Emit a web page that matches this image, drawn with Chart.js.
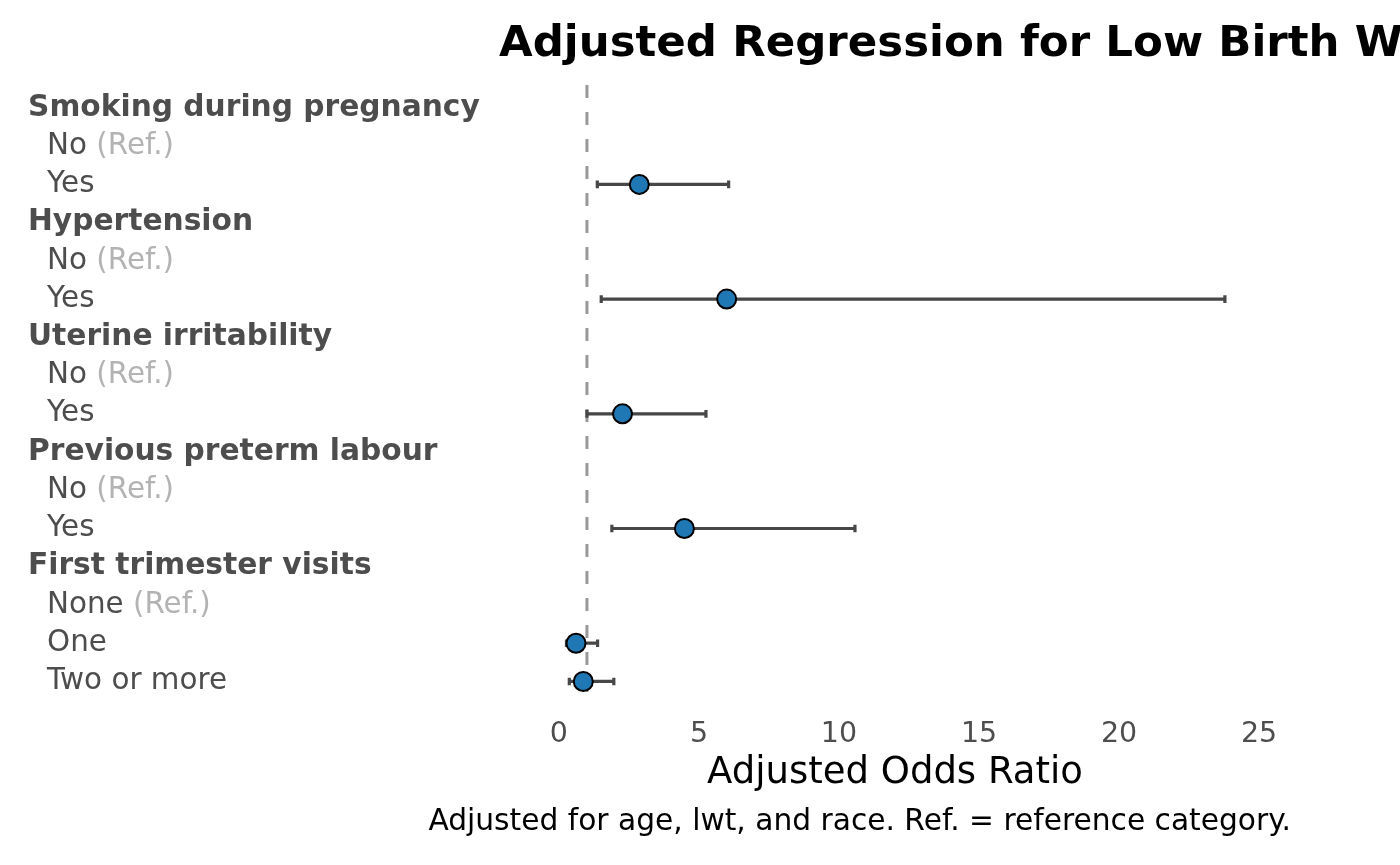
<!DOCTYPE html>
<html>
<head>
<meta charset="utf-8">
<script src="https://cdn.jsdelivr.net/npm/chart.js@4.4.1/dist/chart.umd.min.js"></script>
<style>
  html, body { margin: 0; padding: 0; background: #ffffff; }
  #wrap { width: 1400px; height: 865px; }
</style>
</head>
<body>
<div id="wrap"><canvas id="c" width="1400" height="865"></canvas></div>
<script>
// ---- data ----
const rowLabels = [
  'Smoking during pregnancy', 'No', 'Yes',
  'Hypertension', 'No', 'Yes',
  'Uterine irritability', 'No', 'Yes',
  'Previous preterm labour', 'No', 'Yes',
  'First trimester visits', 'None', 'One', 'Two or more'
];
const rowKind = [
  'header', 'ref', 'level',
  'header', 'ref', 'level',
  'header', 'ref', 'level',
  'header', 'ref', 'level',
  'header', 'ref', 'level', 'level'
];
const oddsRatio = [null, null, 2.87, null, null, 5.99, null, null, 2.27, null, null, 4.48, null, null, 0.61, 0.87];
const ciLower   = [null, null, 1.37, null, null, 1.51, null, null, 1.00, null, null, 1.89, null, null, 0.27, 0.37];
const ciUpper   = [null, null, 6.06, null, null, 23.78, null, null, 5.25, null, null, 10.57, null, null, 1.38, 1.96];
const xTickValues = [0, 5, 10, 15, 20, 25];
const referenceValue = 1;
const titleText = 'Adjusted Regression for Low Birth Weight';
const xAxisTitle = 'Adjusted Odds Ratio';
const captionText = 'Adjusted for age, lwt, and race. Ref. = reference category.';
const refSuffix = '(Ref.)';

const FONT = '"DejaVu Sans", "Noto Sans", sans-serif';

const pointData = [];
oddsRatio.forEach((v, i) => { if (v !== null) pointData.push({ x: v, y: i }); });

const yMin = -0.6, yMax = rowLabels.length - 1 + 0.6;

const errorBarPlugin = {
  id: 'errorBars',
  afterDatasetDraw(chart, args) {
    if (args.index !== 1) return;
    const ctx = chart.ctx;
    const xs = chart.scales.x, ys = chart.scales.y;
    ctx.save();
    ctx.strokeStyle = '#474747';
    ctx.lineWidth = 3.2;
    ctx.lineCap = 'butt';
    for (let i = 0; i < rowLabels.length; i++) {
      if (ciLower[i] === null) continue;
      const y = ys.getPixelForValue(i);
      const x1 = xs.getPixelForValue(ciLower[i]);
      const x2 = xs.getPixelForValue(ciUpper[i]);
      const half = ys.getPixelForValue(i + 0.1) - y;
      ctx.beginPath();
      ctx.moveTo(x1, y); ctx.lineTo(x2, y);
      ctx.moveTo(x1, y - half); ctx.lineTo(x1, y + half);
      ctx.moveTo(x2, y - half); ctx.lineTo(x2, y + half);
      ctx.stroke();
    }
    ctx.restore();
  }
};

const textPlugin = {
  id: 'texts',
  afterDraw(chart) {
    const ctx = chart.ctx;
    const ys = chart.scales.y;
    const area = chart.chartArea;
    ctx.save();
    // row labels
    ctx.textBaseline = 'middle';
    ctx.textAlign = 'left';
    for (let i = 0; i < rowLabels.length; i++) {
      const y = ys.getPixelForValue(i);
      if (rowKind[i] === 'header') {
        ctx.font = 'bold 29.7px ' + FONT;
        ctx.fillStyle = '#4d4d4d';
        ctx.fillText(rowLabels[i], 28, y);
      } else {
        ctx.font = '29.4px ' + FONT;
        ctx.fillStyle = '#4d4d4d';
        ctx.fillText(rowLabels[i], 47, y);
        if (rowKind[i] === 'ref') {
          const w = ctx.measureText(rowLabels[i] + ' ').width;
          ctx.fillStyle = '#b3b3b3';
          ctx.fillText(refSuffix, 47 + w, y);
        }
      }
    }
    // title
    ctx.font = 'bold 43.5px ' + FONT;
    ctx.fillStyle = '#000000';
    ctx.textAlign = 'left';
    ctx.fillText(titleText, area.left, 45);
    // x axis title
    ctx.font = '37px ' + FONT;
    ctx.textAlign = 'center';
    ctx.fillText(xAxisTitle, (area.left + area.right) / 2, 773);
    // caption
    ctx.font = '29.7px ' + FONT;
    ctx.textAlign = 'right';
    ctx.fillText(captionText, area.right, 822);
    ctx.restore();
  }
};

new Chart(document.getElementById('c'), {
  type: 'scatter',
  data: {
    datasets: [
      {
        label: 'Adjusted OR',
        data: pointData,
        pointRadius: 9.5,
        pointHoverRadius: 9.5,
        pointBackgroundColor: '#1f77b4',
        pointBorderColor: '#000000',
        pointBorderWidth: 2,
        showLine: false
      },
      {
        label: 'Reference',
        type: 'line',
        data: [{ x: referenceValue, y: yMin }, { x: referenceValue, y: yMax }],
        borderColor: '#999999',
        borderWidth: 3,
        borderDash: [13, 14],
        pointRadius: 0,
        fill: false
      }
    ]
  },
  options: {
    responsive: false,
    animation: false,
    devicePixelRatio: 1,
    layout: { padding: { left: 499, right: 109, top: 85, bottom: 0 } },
    plugins: {
      legend: { display: false },
      title: { display: false },
      tooltip: { enabled: false }
    },
    scales: {
      x: {
        type: 'linear',
        min: -2.14,
        max: 26.14,
        grid: { display: false, drawTicks: false },
        border: { display: false },
        afterBuildTicks(scale) { scale.ticks = xTickValues.map(v => ({ value: v })); },
        afterFit(scale) { scale.height = 865 - 704.4; },
        ticks: {
          padding: 13,
          color: '#4d4d4d',
          font: { family: FONT, size: 28.5 },
          maxRotation: 0,
          autoSkip: false
        }
      },
      y: {
        type: 'linear',
        reverse: true,
        min: yMin,
        max: yMax,
        display: false
      }
    }
  },
  plugins: [errorBarPlugin, textPlugin]
});
</script>
</body>
</html>
